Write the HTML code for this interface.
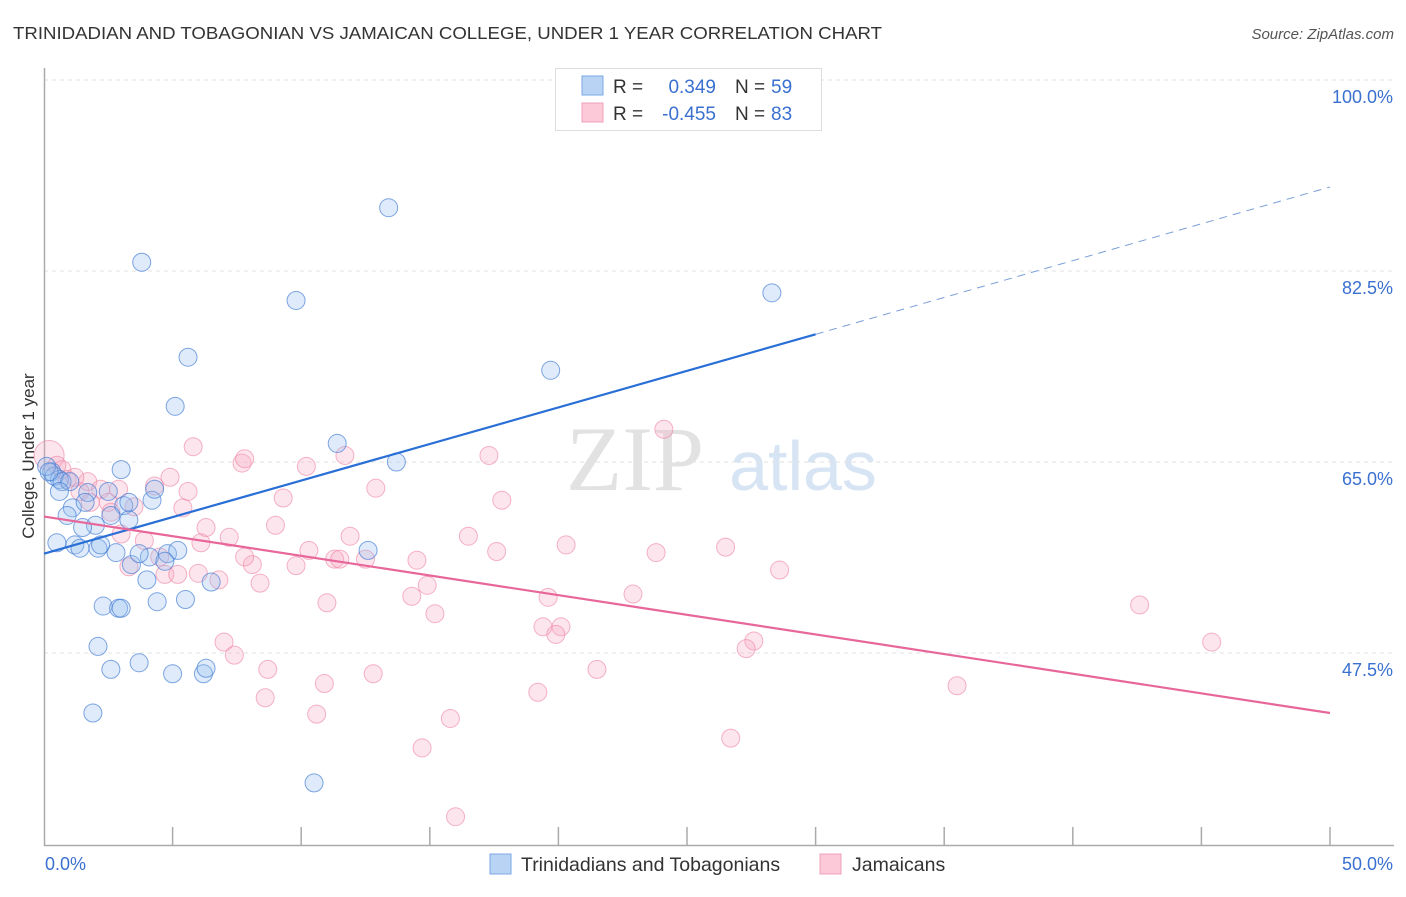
<!DOCTYPE html>
<html><head><meta charset="utf-8"><style>
body{margin:0;background:#fff;font-family:"Liberation Sans",sans-serif;}
</style></head><body>
<svg width="1406" height="892" xmlns="http://www.w3.org/2000/svg" id="svg" style="font-family:'Liberation Sans',sans-serif">
<text x="13" y="39" font-size="17.6" fill="#333" textLength="869" lengthAdjust="spacingAndGlyphs">TRINIDADIAN AND TOBAGONIAN VS JAMAICAN COLLEGE, UNDER 1 YEAR CORRELATION CHART</text>
<text x="1394" y="39" font-size="15" fill="#555" text-anchor="end" font-style="italic">Source: ZipAtlas.com</text>
<text transform="translate(34,456) rotate(-90)" font-size="17" fill="#333" text-anchor="middle">College, Under 1 year</text>
<g><text x="635" y="490" font-size="92" fill="#e2e2e2" text-anchor="middle" font-family="Liberation Serif,serif">ZIP</text><text x="803" y="490" font-size="70" fill="#d6e4f4" text-anchor="middle">atlas</text></g>
<g id="grid"></g><g id="axes"></g><g id="pts"></g><g id="lines"></g>
<g>
<rect x="555.5" y="68.5" width="266" height="62" fill="#fff" stroke="#ddd"/>
<rect x="582" y="76" width="21" height="19" fill="#b9d3f5" stroke="#7aa8e4"/>
<rect x="582" y="103" width="21" height="19" fill="#fcc9d8" stroke="#f0a0b8"/>
<text x="613" y="93" font-size="19" fill="#333">R =</text><text x="716" y="93" font-size="19" fill="#3a70d0" text-anchor="end">0.349</text>
<text x="735" y="93" font-size="19" fill="#333">N =</text><text x="771" y="93" font-size="19" fill="#3a70d0">59</text>
<text x="613" y="120" font-size="19" fill="#333">R =</text><text x="716" y="120" font-size="19" fill="#3a70d0" text-anchor="end">-0.455</text>
<text x="735" y="120" font-size="19" fill="#333">N =</text><text x="771" y="120" font-size="19" fill="#3a70d0">83</text>
</g>
<g>
<rect x="490" y="854" width="21" height="20" fill="#b9d3f5" stroke="#7aa8e4"/>
<text x="521" y="871" font-size="19.5" fill="#333">Trinidadians and Tobagonians</text>
<rect x="820" y="854" width="21" height="20" fill="#fcc9d8" stroke="#f0a0b8"/>
<text x="852" y="871" font-size="19.5" fill="#333">Jamaicans</text>
</g>
</svg>
<script>
const yTicks=[100,82.5,65,47.5];
const yTickLabels=["100.0%","82.5%","65.0%","47.5%"];
const xTickLabels=["0.0%","50.0%"];
const blueX=[13.4,3.8,9.8,28.3,5.6,19.7,5.1,11.4,13.7,3.0,0.3,0.6,0.4,4.2,3.1,2.5,1.7,1.1,0.9,2.6,2.0,1.5,0.5,1.2,1.4,2.1,2.8,4.3,4.1,4.8,5.2,3.4,4.0,6.5,12.6,2.3,2.9,3.0,4.4,5.5,2.1,2.6,3.7,5.0,6.2,6.3,1.9,10.5,0.1,0.7,3.3,2.2,4.7,0.2,3.3,1.6,1.0,3.7,0.6];
const blueY=[88.3,83.3,79.8,80.5,74.6,73.4,70.1,66.7,65.0,64.3,64.1,63.4,63.7,61.5,61.0,62.3,62.2,60.8,60.1,60.1,59.2,59.0,57.6,57.4,57.1,57.1,56.7,62.5,56.3,56.6,56.9,55.6,54.2,54.0,56.9,51.8,51.6,51.6,52.2,52.4,48.1,46.0,46.6,45.6,45.6,46.1,42.0,35.6,64.6,63.2,61.3,57.4,55.9,64.1,59.7,61.3,63.2,56.6,62.3];
const pinkX=[0.2,0.7,0.5,0.9,1.7,2.2,1.4,2.5,2.9,3.5,4.3,4.9,5.6,5.8,5.4,6.3,6.1,7.2,7.7,7.8,9.3,9.0,10.2,11.7,12.9,8.1,9.8,10.3,11.3,11.5,11.9,14.5,14.9,14.3,16.5,17.6,17.3,17.8,20.3,19.6,19.4,20.1,19.9,22.9,23.8,24.1,26.5,28.6,27.6,27.3,21.5,19.2,8.6,8.7,10.9,10.6,12.8,15.8,14.7,16.0,26.7,35.5,42.6,45.4,7.0,7.4,6.8,6.0,4.7,5.2,3.9,3.3,4.5,3.0,2.6,1.8,1.2,8.4,7.8,11.0,12.5,15.2];
const pinkY=[65.6,64.3,64.7,63.4,63.2,62.5,62.3,61.3,62.5,60.9,62.8,63.6,62.3,66.4,60.8,59.0,57.6,58.1,64.9,65.3,61.7,59.2,64.6,65.6,62.6,55.6,55.5,56.9,56.1,56.1,58.2,56.0,53.7,52.7,58.2,56.8,65.6,61.5,57.4,52.6,49.9,49.9,49.2,52.9,56.7,68.0,57.2,55.1,48.6,47.9,46.0,43.9,43.4,46.0,44.7,41.9,45.6,41.5,38.8,32.5,39.7,44.5,51.9,48.5,48.5,47.3,54.2,54.8,54.7,54.7,57.8,55.4,56.3,58.4,60.4,61.3,63.6,53.9,56.3,52.1,56.1,51.1];
const blueFit=[0,56.6,30,76.7,50,90.2];
const pinkFit=[0,60.0,50,42.0];
const NS="http://www.w3.org/2000/svg";
const X=v=>44+v*25.72, Y=v=>80+(100-v)*10.914;
function mk(p,t,a){const e=document.createElementNS(NS,t);for(const k in a)e.setAttribute(k,a[k]);document.getElementById(p).appendChild(e);return e;}
yTicks.forEach((t,i)=>{
 let l=mk('grid','line',{x1:44,x2:1394,y1:Y(t),y2:Y(t),stroke:'#e2e2e2','stroke-dasharray':'4,4'});
 
 
 let tx=mk('grid','text',{x:1393,y:Y(t)+23,'font-size':18,fill:'#3a70d0','text-anchor':'end'});tx.textContent=yTickLabels[i];
 
 
});
let ax=mk('axes','path',{d:'M44.5 68V845.5H1394',stroke:'#aaa',fill:'none','stroke-width':1.5});


for(let i=1;i<=10;i++){let t=mk('axes','line',{x1:X(i*5),x2:X(i*5),y1:827,y2:845,stroke:'#aaa','stroke-width':1.5});
 
 }
[[0,'start',45],[50,'end',1393]].forEach((d,i)=>{let t=mk('axes','text',{x:d[2],y:870,'font-size':18,fill:'#3a70d0','text-anchor':d[1]});t.textContent=xTickLabels[i];
 
 });
pinkX.forEach((x,i)=>{let c=mk('pts','circle',{cx:X(x),cy:Y(pinkY[i]),r:i==0?15:9,fill:'rgba(247,170,195,0.3)',stroke:'rgba(236,130,160,0.6)','stroke-width':1});
 
 });
blueX.forEach((x,i)=>{let c=mk('pts','circle',{cx:X(x),cy:Y(blueY[i]),r:9,fill:'rgba(150,190,240,0.3)',stroke:'rgba(60,120,210,0.65)','stroke-width':1});
 
 });
let b1=mk('lines','line',{x1:X(blueFit[0]),y1:Y(blueFit[1]),x2:X(blueFit[2]),y2:Y(blueFit[3]),stroke:'#2a6fd6','stroke-width':2.2});


let b2=mk('lines','line',{x1:X(blueFit[2]),y1:Y(blueFit[3]),x2:X(blueFit[4]),y2:Y(blueFit[5]),stroke:'#7a9fd8','stroke-width':1,'stroke-dasharray':'8,6'});


let p1=mk('lines','line',{x1:X(pinkFit[0]),y1:Y(pinkFit[1]),x2:X(pinkFit[2]),y2:Y(pinkFit[3]),stroke:'#e8679a','stroke-width':2.2});


</script>
</body></html>
